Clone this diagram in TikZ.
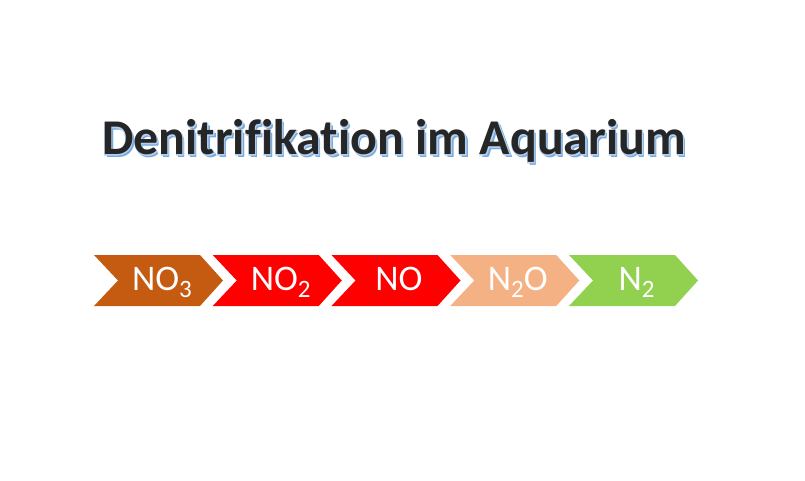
\documentclass[tikz,border=0pt]{standalone}
\usepackage{fontspec}
\setmainfont{Carlito}[Ligatures=NoCommon]
\newfontfamily\glowfont{Carlito Bold}[FakeBold=2.5,Ligatures=NoCommon]
\definecolor{cBrown}{HTML}{C55A11}
\definecolor{cRed}{HTML}{FF0000}
\definecolor{cPeach}{HTML}{F4B183}
\definecolor{cGreen}{HTML}{92D050}
\definecolor{cTitle}{HTML}{262626}
\definecolor{cGlow}{HTML}{B4D0EE}
\definecolor{cShadow}{HTML}{7AAADD}
\newcommand{\chemsub}[1]{\raisebox{-0.22em}{\fontsize{25}{25}\selectfont #1}}
\newcommand{\ttltext}{Denitrifikation im Aquarium}
\tikzset{
  lbl/.style={text=white, font=\fontsize{36}{36}\selectfont, anchor=base, inner sep=0pt},
  ttl/.style={font=\fontsize{50}{50}\selectfont, anchor=base, inner sep=0pt},
}
\newcommand{\chev}[2]{%
  \fill[#2] (#1,255) -- ++(106,0) -- ++(23,25.5) -- ++(-23,25.5) -- ++(-106,0) -- ++(24,-25.5) -- cycle;
}
\begin{document}
\begin{tikzpicture}[x=1pt,y=-1pt]
\useasboundingbox (0,0) rectangle (805,481);
\fill[white] (0,0) rectangle (805,481);
% title with shadow and light outline
\node[ttl] (title) at (394,155) {%
  \rlap{\kern2.2pt\raisebox{-2.2pt}{\bfseries\color{cShadow}\ttltext}}%
  \rlap{\glowfont\color{cGlow}\ttltext}%
  {\bfseries\color{cTitle}\ttltext}};
% chevrons
\chev{94}{cBrown}
\chev{212.75}{cRed}
\chev{331.5}{cRed}
\chev{450.25}{cPeach}
\chev{569}{cGreen}
\node[lbl] (no3) at (94+68,290) {NO\chemsub{3}};
\node[lbl] (no2) at (212.75+68,290) {NO\chemsub{2}};
\node[lbl] (no) at (331.5+67.5,290) {NO};
\node[lbl] (n2o) at (450.25+67.5,290) {N\chemsub{2}O};
\node[lbl] (n2) at (569+67.5,290) {N\chemsub{2}};
\end{tikzpicture}
\end{document}
